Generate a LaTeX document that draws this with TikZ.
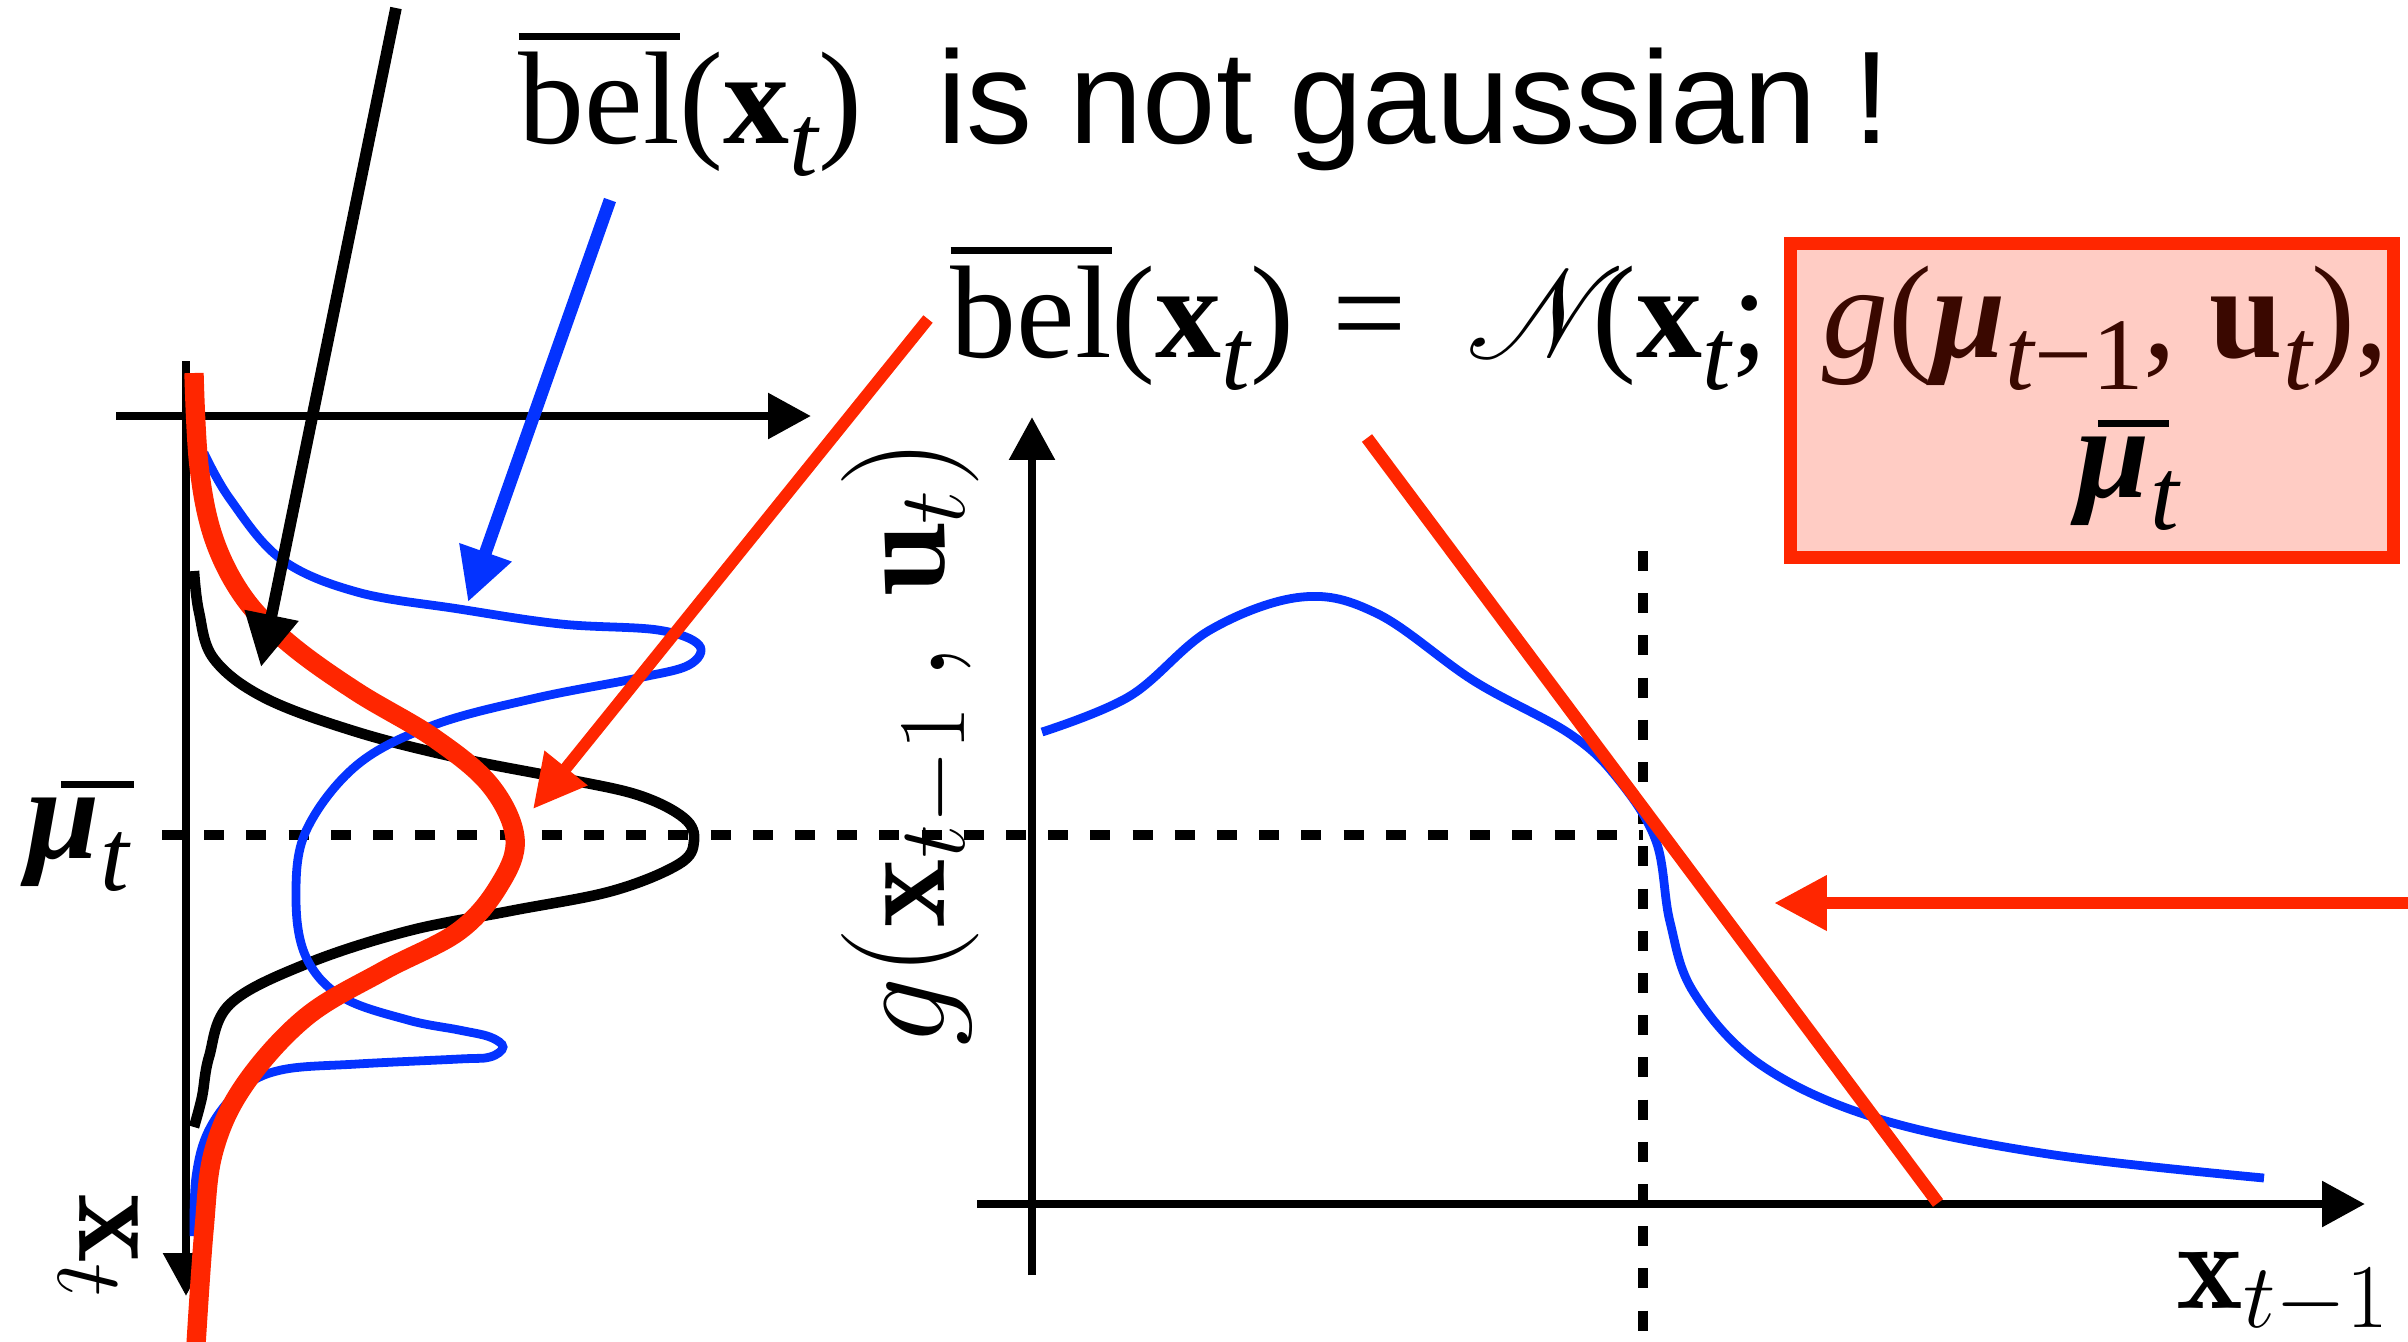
\documentclass[tikz,border=0pt]{standalone}
\usepackage{fontspec}
\usepackage{amsmath}
\usepackage{mathrsfs}
\usepackage{graphicx}
\usetikzlibrary{arrows.meta}
\newfontfamily\tms{Liberation Serif}
\newfontfamily\hlv{Liberation Sans}
\definecolor{kred}{HTML}{FF2600}
\definecolor{kblue}{HTML}{0433FF}
\definecolor{kpink}{HTML}{FFCCC4}
\definecolor{kbrown}{HTML}{3A0800}
\newcommand\tsub[1]{\raisebox{-0.25em}{\scalebox{0.78}{#1}}}
\newcommand\bx{{\bfseries x}}
\newcommand\tit{{\itshape t}}
\newcommand\belbar{\setbox0\hbox{bel}\rlap{\rule[0.78em]{\wd0}{0.055em}}bel}
\newcommand\mubar{\rlap{\hspace{0.16em}\rule[0.53em]{0.54em}{0.055em}}{\bfseries\itshape μ}}
\newcommand\bigsz{\fontsize{37.5}{40}\selectfont}
\newcommand\bigmath[2]{\scalebox{#1}{\fontsize{24}{28}\selectfont$#2$}}
\begin{document}
\begin{tikzpicture}[x=0.01cm,y=-0.01cm,
  axis/.style={line width=2.5pt,-{Triangle[length=12.2pt,width=12.5pt]}},
  bigarrow/.style={-{Triangle[length=15pt,width=14.8pt]}},
  guide/.style={line width=2.6pt,dash pattern=on 5.7pt off 6.3pt},
  lbl/.style={inner sep=0pt,anchor=base west},
  curve/.style={smooth,tension=0.6},
]
\useasboundingbox (0,0) rectangle (2408,1341);
\clip (0,0) rectangle (2408,1341);

% ---------- titles ----------
\node[lbl] (t1) at (518,143) {\tms\bigsz\belbar(\bx\tsub{\tit})};
\node[lbl] (t2) at (937,143) {\hlv\bigsz is not gaussian !};

% ---------- left plot ----------
\draw[axis] (116,416) -- (811,416);
\draw[axis] (186,361) -- (186,1296);
\draw[guide] (162,835) -- (1643,835);
\draw[line width=3pt] plot[curve] coordinates {(194,571) (199,612) (214,659) (265,698) (357,732) (459,758) (561,778) (638,795) (684,818) (694,841) (679,864) (612,891) (510,911) (408,931) (306,964) (230,1004) (209,1057) (202,1097) (194,1127)};
\draw[kblue,line width=2.5pt] plot[curve] coordinates {(204,453) (230,499) (281,559) (357,592) (459,609) (561,624) (658,630) (699,645) (689,665) (638,678) (536,698) (434,725) (357,765) (306,831) (296,898) (306,957) (342,997) (408,1020) (459,1030) (490,1037) (503,1047) (490,1057) (459,1059) (357,1064) (281,1070) (240,1090) (209,1130) (196,1177) (194,1236)};
\draw[kred,line width=5.5pt] plot[curve] coordinates {(194,373) (199,466) (214,539) (245,599) (291,645) (357,692) (434,738) (490,785) (515,838) (500,884) (459,931) (383,971) (306,1017) (245,1084) (214,1150) (204,1230) (196,1345)};

\node[lbl] (mul) at (26,858) {\tms\bigsz\rlap{\hspace{0.26em}\rule[0.53em]{0.55em}{0.055em}}{\bfseries\itshape μ}\tsub{\tit}};
\node[lbl,rotate=-90] (xt) at (79,1193) {\bigmath{1.57}{\mathbf{x}_t}};

% ---------- pointer arrows ----------
\coordinate (ka) at (396,8);   \coordinate (kb) at (261,667);
\coordinate (ba) at (610,200); \coordinate (bb) at (468,602);
\coordinate (ra) at (928,319); \coordinate (rb) at (533,809);
\draw[line width=3.3pt,bigarrow] (ka) -- (kb);
\draw[kblue,line width=3.6pt,bigarrow] (ba) -- (bb);
\draw[kred,line width=3.4pt,bigarrow] (ra) -- (rb);

% ---------- right plot ----------
\draw[guide] (1643,551) -- (1643,1345);
\draw[axis] (1032,1275) -- (1032,417);
\draw[axis] (977,1204) -- (2365,1204);
\draw[kblue,line width=2.5pt] plot[curve] coordinates {(1042,732) (1130,696) (1210,630) (1302,597) (1378,614) (1474,681) (1570,734) (1618,779) (1656,841) (1670,922) (1694,993) (1761,1065) (1876,1118) (2048,1154) (2264,1178)};
\coordinate (ta) at (1367,438); \coordinate (tb) at (1938,1203);
\draw[kred,line width=3.6pt] (ta) -- (tb);
\coordinate (qa) at (2420,903); \coordinate (qb) at (1774,903);
\draw[kred,line width=3.6pt,bigarrow] (qa) -- (qb);

\node[lbl,rotate=90] (gl) at (944,1047) {\bigmath{1.57}{g(\mathbf{x}_{t-1}\,,\,\mathbf{u}_t)}};
\node[lbl] (xl) at (2176,1308) {\bigmath{1.5}{\mathbf{x}_{t-1}}};

% ---------- formula ----------
\draw[kred,line width=3.7pt,fill=kpink] (1790,243) rectangle (2393,557);
\node[lbl] (f1) at (950,357) {\tms\bigsz\belbar(\bx\tsub{\tit})};
\node[lbl] (f2) at (1332,357) {\tms\bigsz =};
\node[lbl] (f3) at (1466,357) {\bigmath{1.45}{\mathscr{N}}};
\node[lbl] (f3b) at (1592,357) {\tms\bigsz(\bx\tsub{\tit};};
\node[lbl,text=kbrown] (f4) at (1822,357) {\tms\bigsz{\itshape g}({\bfseries\itshape μ}\tsub{{\itshape t}−1}, {\bfseries u}\tsub{\tit}),};
\node[lbl] (f5) at (2076,497) {\tms\bigsz\mubar\tsub{\tit}};
\end{tikzpicture}
\end{document}
